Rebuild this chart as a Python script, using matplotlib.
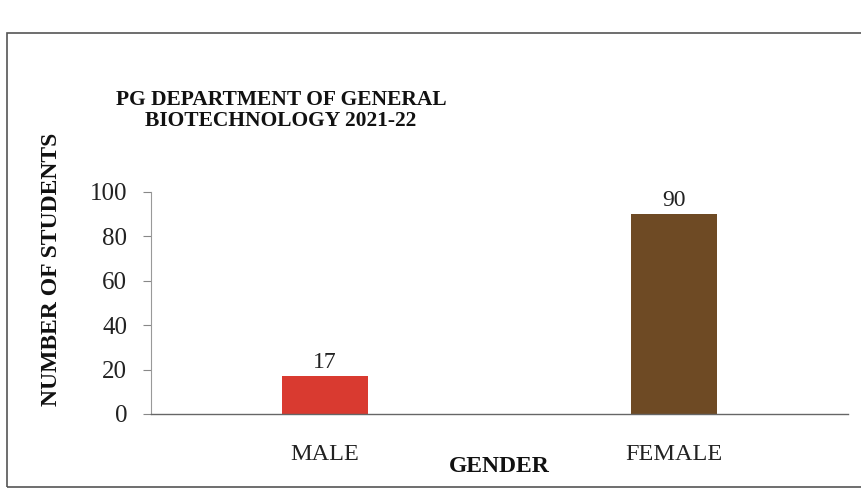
import matplotlib
matplotlib.use("Agg")
import matplotlib.pyplot as plt
from matplotlib.patches import Rectangle

categories = ["MALE", "FEMALE"]
students = [17, 90]
bar_colors = ["#d93a30", "#6e4a24"]
yticks = [0, 20, 40, 60, 80, 100]
title = "PG DEPARTMENT OF GENERAL\nBIOTECHNOLOGY 2021-22"

plt.rcParams['font.family'] = ['Liberation Serif', 'DejaVu Serif']

fig = plt.figure(figsize=(8.62, 4.91), dpi=100)
fig.patch.set_facecolor("white")
ax = fig.add_axes([0.175, 0.157, 0.809, 0.452])

x = range(len(categories))
bars = ax.bar(x, students, width=0.245, color=bar_colors)
for xi, v in zip(x, students):
    ax.text(xi, v + 1.5, str(v), ha="center", va="bottom", fontsize=17, color="#222222")

ax.set_xlim(-0.5, 1.5)
ax.set_ylim(0, 100)
ax.set_yticks(yticks)
ax.set_yticklabels([str(t) for t in yticks], fontsize=18, color="#222222")
ax.set_xticks(list(x))
ax.set_xticklabels(categories, fontsize=17.5, color="#222222")
ax.tick_params(axis="x", length=0, pad=22)
ax.tick_params(axis="y", length=6, width=0.8, color="#888888", pad=11, direction="out")

for s in ["top", "right"]:
    ax.spines[s].set_visible(False)
ax.spines["left"].set_color("#999999")
ax.spines["left"].set_linewidth(0.8)
ax.spines["bottom"].set_color("#666666")
ax.spines["bottom"].set_linewidth(1.0)

ax.set_ylabel("NUMBER OF STUDENTS", fontsize=17, fontweight="bold", color="#111111", va="center")
ax.yaxis.set_label_coords(-0.142, 0.653)
ax.set_xlabel("GENDER", fontsize=17, fontweight="bold", color="#111111", va="center")
ax.xaxis.set_label_coords(0.5, -0.239)

fig.text(0.326, 0.775, title, ha="center", va="center", fontsize=15.5, fontweight="bold",
         color="#111111", linespacing=1.1)

fig.patches.append(Rectangle((0.008, 0.008), 1.2, 0.925, transform=fig.transFigure,
                             fill=False, edgecolor="#555555", linewidth=1.2))

fig.savefig("out.png", dpi=100, facecolor="white")
